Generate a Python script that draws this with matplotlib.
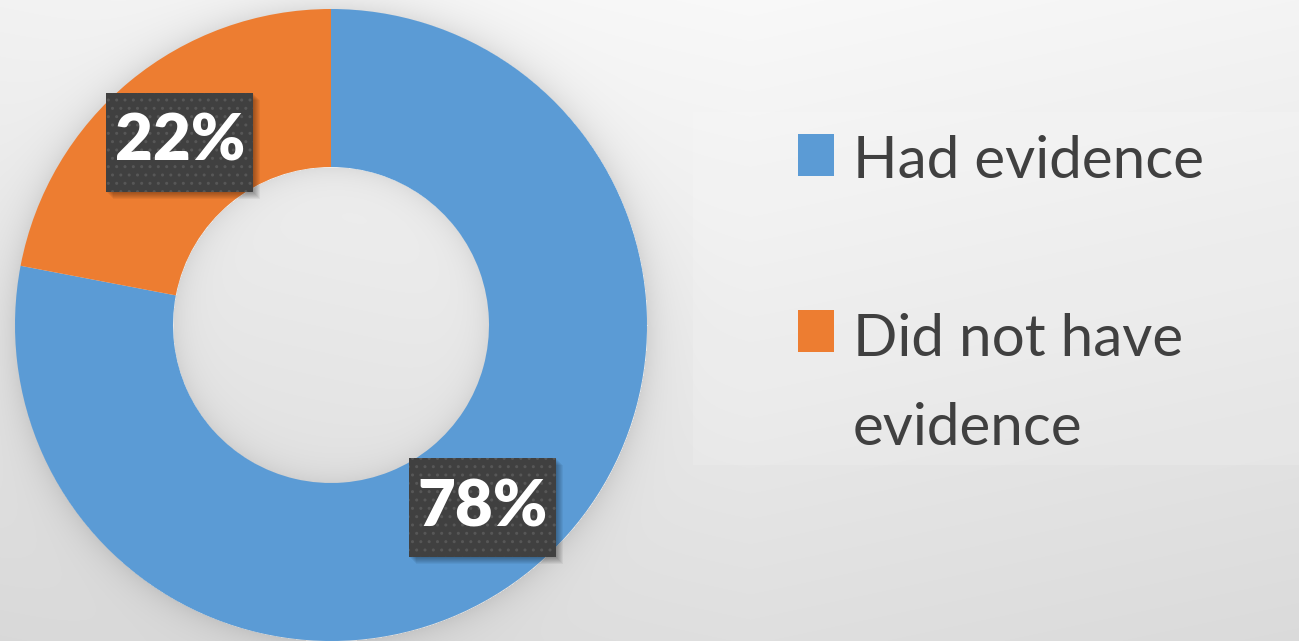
import numpy as np
import matplotlib.pyplot as plt
from matplotlib.patches import Rectangle

W, H = 1299, 641

categories = ['Had evidence', 'Did not have evidence']
legend_labels = ['Had evidence', 'Did not have\nevidence']
shares = [78, 22]
colors = ['#5B9BD5', '#ED7D31']

# donut geometry (pixels)
cx, cy = 331, H - 325
R_out, R_in = 316, 158

fig = plt.figure(figsize=(W / 100, H / 100), dpi=100)
ax = fig.add_axes([0, 0, 1, 1])

# background: soft grey gradient with a halo around the ring
yy, xx = np.mgrid[0:H, 0:W].astype(float)
bg = 0.975 - 0.10 * (yy / H) - 0.025 * np.abs(xx - 750) / 750
r = np.hypot(xx - cx, (H - yy) - cy)
bg -= np.where(r > R_out, 0.09 * np.exp(-(r - R_out) / 16.0), 0)
bg -= np.where(r < R_in, 0.07 * np.exp(-(R_in - r) / 14.0), 0)
bg = np.clip(bg, 0, 1)
ax.imshow(np.dstack([bg, bg, bg]), extent=(0, W, 0, H), origin='upper', zorder=0)

wedges, _, autotexts = ax.pie(
    shares, colors=colors, startangle=90, counterclock=False,
    center=(cx, cy), radius=R_out, autopct='%1.0f%%', pctdistance=0.75,
    wedgeprops=dict(width=R_out - R_in, linewidth=0),
    textprops=dict(color='white', fontsize=47, fontweight='heavy',
                   family=['Lato', 'DejaVu Sans'], zorder=5))

# dark dotted label boxes with a soft drop shadow
bw, bh = 147, 99
for t in autotexts:
    x, y = t.get_position()
    for k in range(1, 8):
        ax.add_patch(Rectangle((x - bw / 2 + k, y - bh / 2 - k), bw, bh,
                               facecolor='k', alpha=0.05, linewidth=0, zorder=3.9))
    ax.add_patch(Rectangle((x - bw / 2, y - bh / 2), bw, bh, facecolor='#404040',
                           edgecolor='#575757', linewidth=0, hatch='..', zorder=4))

ax.set_xlim(0, W)
ax.set_ylim(0, H)
ax.axis('off')

# legend panel
ax.add_patch(Rectangle((693, H - 465), W - 693, 465 - 112, facecolor='white',
                       alpha=0.14, linewidth=0, zorder=1))

leg_y = [178, 445]
sq_top = [134, 310]
for lab, col, yb, yt in zip(legend_labels, colors, leg_y, sq_top):
    ax.add_patch(Rectangle((798, H - yt - 42), 36, 42, facecolor=col,
                           linewidth=0, zorder=3))
    ax.text(853, H - yb, lab, fontsize=42, color='#404040', va='baseline',
            ha='left', linespacing=1.84, family=['Lato', 'DejaVu Sans'], zorder=3)

fig.savefig('out.png', dpi=100)
